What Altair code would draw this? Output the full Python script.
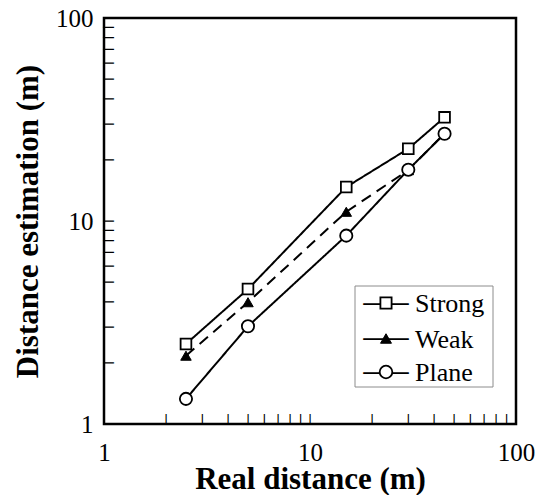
import altair as alt
import pandas as pd

# ---- data ----
real = [2.5, 5, 15, 30, 45]
strong = [2.48, 4.62, 14.7, 22.7, 32.4]
weak = [2.17, 3.98, 11.1, 17.8, 27.0]
plane = [1.33, 3.03, 8.47, 17.9, 26.9]
series_names = ["Strong", "Weak", "Plane"]
axis_labels = [1, 10, 100]
minor_ticks = [2, 3, 4, 5, 6, 7, 8, 9, 10, 20, 30, 40, 50, 60, 70, 80, 90]

rows = []
for name, vals in zip(series_names, [strong, weak, plane]):
    for r, v in zip(real, vals):
        rows.append({"kind": "data", "series": name, "real": r, "est": v})
for t in minor_ticks:
    rows.append({"kind": "tick", "series": "", "real": float(t), "est": float(t)})
df = pd.DataFrame(rows)

FONT = "Liberation Serif, DejaVu Serif, serif"
GLYPH_FONT = "DejaVu Sans"
W, H = 412, 406

xscale = alt.Scale(type="log", domain=[1, 100], nice=False)
yscale = alt.Scale(type="log", domain=[1, 100], nice=False)

xaxis = alt.Axis(values=axis_labels, format="d", title="Real distance (m)",
                 ticks=False, domain=False, grid=False,
                 labelFont=FONT, labelFontSize=25, labelColor="black",
                 labelPadding=16, labelFlush=False, labelOverlap=False,
                 titleFont=FONT, titleFontSize=31, titleFontWeight="bold",
                 titleColor="black", titleBaseline="alphabetic", titleY=64)
yaxis = alt.Axis(values=axis_labels, format="d", title="Distance estimation (m)",
                 ticks=False, domain=False, grid=False,
                 labelFont=FONT, labelFontSize=25, labelColor="black",
                 labelPadding=11, labelFlush=False, labelOverlap=False,
                 titleFont=FONT, titleFontSize=31, titleFontWeight="bold",
                 titleColor="black", titleAngle=270, titleBaseline="alphabetic",
                 titleAlign="center", titleX=-67, titleY=203)

X = alt.X("real:Q", scale=xscale, axis=xaxis)
Y = alt.Y("est:Q", scale=yscale, axis=yaxis)

base = alt.Chart(df)
data_only = base.transform_filter("datum.kind == 'data'")
tick_only = base.transform_filter("datum.kind == 'tick'")

# inward minor ticks drawn as bar glyphs, placed through the log scales
xticks = tick_only.mark_text(text="|", font=GLYPH_FONT, fontSize=10,
                             fontWeight="bold", color="black", align="center",
                             baseline="alphabetic").encode(
    x=X, y=alt.value(H - 2.4))
yticks = tick_only.mark_text(text="|", font=GLYPH_FONT, fontSize=10,
                             fontWeight="bold", color="black", align="center",
                             baseline="alphabetic", angle=90).encode(
    y=Y, x=alt.value(2.4))

lines = data_only.mark_line(color="black", strokeWidth=2).encode(
    x=X, y=Y, detail="series:N",
    strokeDash=alt.StrokeDash("series:N",
                              scale=alt.Scale(domain=series_names,
                                              range=[[1, 0], [11, 7], [1, 0]]),
                              legend=None))

marker_style = {
    "Strong": dict(shape="square", fill="white", strokeWidth=1.8, size=115),
    "Weak": dict(shape="triangle-up", fill="black", strokeWidth=1, size=110),
    "Plane": dict(shape="circle", fill="white", strokeWidth=1.8, size=150),
}

point_layers = []
for name in ["Weak", "Strong", "Plane"]:
    st = marker_style[name]
    point_layers.append(
        data_only.transform_filter(f"datum.series == '{name}'").mark_point(
            filled=True, stroke="black", opacity=1, **st).encode(x=X, y=Y))

# legend drawn as a keyed box (line + marker + label per series)
LEG_LEFT, LEG_TOP, LEG_RIGHT, LEG_BOTTOM = 251, 268, 389, 369
ROW_Y = [285, 320.5, 354]
one = base.transform_filter(
    "datum.kind == 'data' && datum.real == 2.5 && datum.series == 'Strong'")
legend_layers = [
    one.mark_rect(filled=False, stroke="#8c8c8c", strokeWidth=1).encode(
        x=alt.value(LEG_LEFT), x2=alt.value(LEG_RIGHT),
        y=alt.value(LEG_TOP), y2=alt.value(LEG_BOTTOM))
]
for name, ry in zip(series_names, ROW_Y):
    st = marker_style[name]
    legend_layers.append(one.mark_text(text="\u2014\u2014", font=GLYPH_FONT,
                                       fontSize=24, color="black", align="center",
                                       baseline="alphabetic").encode(
        x=alt.value(LEG_LEFT + 31), y=alt.value(ry + 7.6)))
    legend_layers.append(one.mark_point(filled=True, stroke="black", opacity=1,
                                        **{**st, "size": st["size"] + 10}).encode(
        x=alt.value(LEG_LEFT + 31), y=alt.value(ry)))
    legend_layers.append(one.mark_text(text=name, font=FONT, fontSize=26,
                                       color="black", align="left",
                                       baseline="middle").encode(
        x=alt.value(LEG_LEFT + 60), y=alt.value(ry + 1)))

chart = alt.layer(xticks, yticks, lines, *point_layers, *legend_layers).properties(
    width=W, height=H, autosize="none",
    padding={"left": 104, "top": 18, "right": 31, "bottom": 71},
    background="white",
).configure_view(stroke="black", strokeWidth=2.5)

chart.save("out.html", embed_options={"renderer": "svg", "actions": False})
